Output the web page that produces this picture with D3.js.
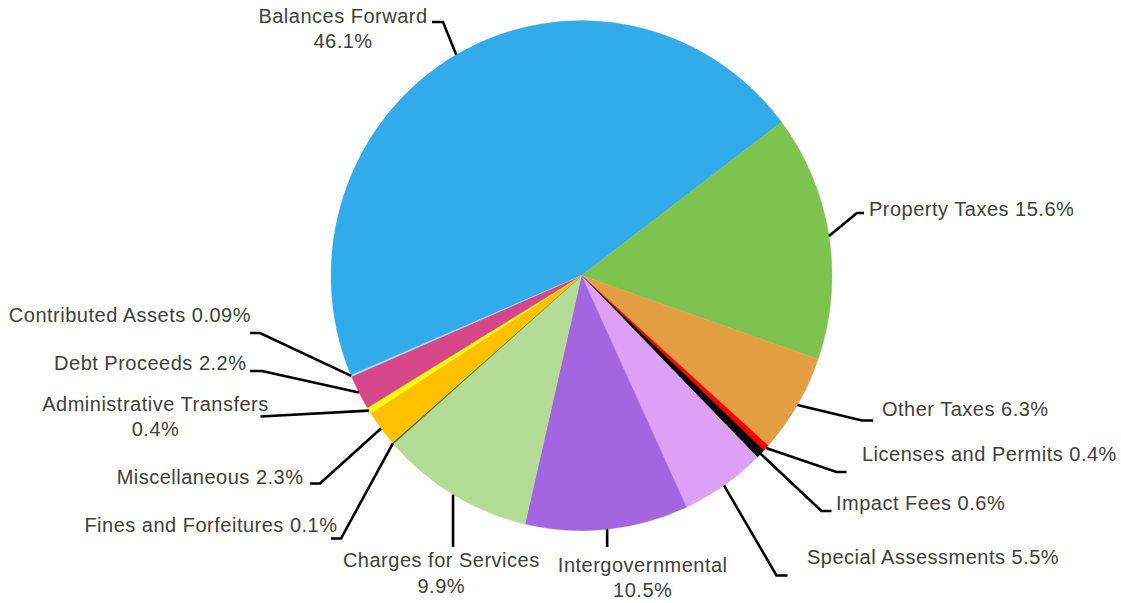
<!DOCTYPE html>
<html>
<head>
<meta charset="utf-8">
<script src="https://cdn.jsdelivr.net/npm/d3@7"></script>
<style>
  html, body { margin: 0; padding: 0; background: #ffffff; }
  svg { display: block; }
  text { font-family: "Liberation Sans", Arial, sans-serif; font-size: 20px; fill: #404040; letter-spacing: 0.5px; }
</style>
</head>
<body>
<svg id="chart" width="1121" height="603"></svg>
<script>
// Revenue sources, clockwise from "Balances Forward"
const categories = [
  "Balances Forward", "Property Taxes", "Other Taxes", "Licenses and Permits",
  "Impact Fees", "Special Assessments", "Intergovernmental", "Charges for Services",
  "Fines and Forfeitures", "Miscellaneous", "Administrative Transfers",
  "Debt Proceeds", "Contributed Assets"
];
const shares = [46.1, 15.6, 6.3, 0.4, 0.6, 5.5, 10.5, 9.9, 0.1, 2.3, 0.4, 2.2, 0.09];
const sliceColors = [
  "#32abeb", "#7fc34f", "#e39e43", "#ff0000",
  "#000000", "#dca0f5", "#a466e0", "#b4dc97",
  "#3d6b22", "#ffc000", "#ffff00",
  "#d6478a", "#a9d8f2"
];

// Label placement: text anchor, optional line break, and leader route
const labelLayout = {
  "Balances Forward":        { x: 343, y: 22.7, anchor: "middle", split: true, route: [[443, 22], [432, 22]] },
  "Property Taxes":          { x: 869, y: 216, anchor: "start", route: [[857, 213], [864, 213]] },
  "Other Taxes":             { x: 882, y: 416, anchor: "start", route: [[862, 420.5], [873, 420.5]] },
  "Licenses and Permits":    { x: 862, y: 461, anchor: "start", route: [[836.5, 472], [846.5, 472]] },
  "Impact Fees":             { x: 836, y: 510, anchor: "start", route: [[821.5, 511], [831.5, 511]] },
  "Special Assessments":     { x: 807, y: 564, anchor: "start", route: [[776.5, 575.5], [787.5, 575.5]] },
  "Intergovernmental":       { x: 642.7, y: 571.7, anchor: "middle", split: true, route: [[null, 547]] },
  "Charges for Services":    { x: 441.3, y: 567.3, anchor: "middle", split: true, route: [[null, 547]] },
  "Fines and Forfeitures":   { x: 337.5, y: 531.7, anchor: "end", route: [[341, 538.5], [331, 538.5]] },
  "Miscellaneous":           { x: 303.5, y: 484, anchor: "end", route: [[320, 483.5], [310, 483.5]] },
  "Administrative Transfers":{ x: 155.5, y: 410.7, anchor: "middle", split: true, route: [[260.5, 416.5]] },
  "Debt Proceeds":           { x: 246.5, y: 370, anchor: "end", route: [[262, 371], [250, 371]] },
  "Contributed Assets":      { x: 251, y: 321.7, anchor: "end", route: [[260, 333], [250, 333]] }
};

const svg = d3.select("#chart");
const cx = 581.5, cy = 275.6;
const radius = 250.5;
const yStretch = 1.018;
const lineGap = 24.4;

const rows = categories.map((name, i) => ({ name, value: shares[i], color: sliceColors[i] }));

const pie = d3.pie()
  .sort(null)
  .value(d => d.value)
  .startAngle(-113 * Math.PI / 180)
  .endAngle(247 * Math.PI / 180);

const arcs = pie(rows);
const arc = d3.arc().innerRadius(0).outerRadius(radius);

const pieGroup = svg.append("g")
  .attr("transform", `translate(${cx},${cy}) scale(1,${yStretch})`);

pieGroup.selectAll("path")
  .data(arcs)
  .join("path")
  .attr("d", arc)
  .attr("fill", d => d.data.color)
  .attr("stroke", d => d.data.color)
  .attr("stroke-width", 0.4);

// Point on the rim at the middle of a slice, in page coordinates
function rimPoint(d) {
  const a = (d.startAngle + d.endAngle) / 2;
  return [cx + Math.sin(a) * radius, cy - Math.cos(a) * radius * yStretch];
}

const leaders = svg.append("g");
const labels = svg.append("g");

arcs.forEach(d => {
  const lay = labelLayout[d.data.name];
  const start = rimPoint(d);
  const pts = [start].concat(lay.route.map(p => [p[0] === null ? start[0] : p[0], p[1]]));
  leaders.append("path")
    .attr("d", d3.line()(pts))
    .attr("fill", "none")
    .attr("stroke", "#000000")
    .attr("stroke-width", 2.6)
    .attr("stroke-linejoin", "miter");

  const pct = d.data.value + "%";
  const t = labels.append("text")
    .attr("x", lay.x)
    .attr("y", lay.y)
    .attr("text-anchor", lay.anchor);
  if (lay.split) {
    t.append("tspan").attr("x", lay.x).attr("y", lay.y).text(d.data.name);
    t.append("tspan").attr("x", lay.x).attr("y", lay.y + lineGap + 0.8).text(pct);
  } else {
    t.text(d.data.name + " " + pct);
  }
});
</script>
</body>
</html>
